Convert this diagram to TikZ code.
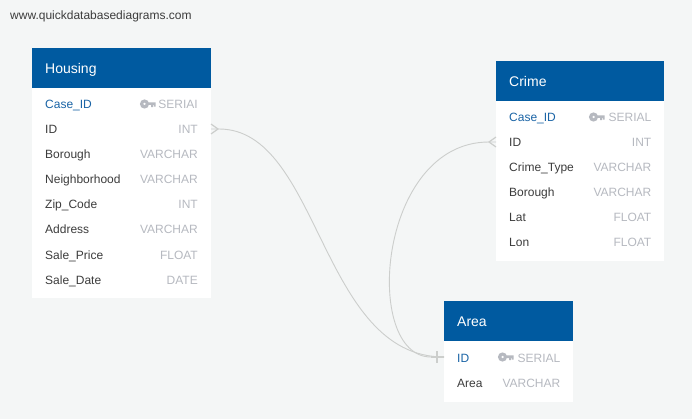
\documentclass[tikz,border=0pt]{standalone}
\usepackage{fontspec}
\setmainfont{Liberation Sans}
\definecolor{bgc}{HTML}{F4F6F6}
\definecolor{headc}{HTML}{005AA0}
\definecolor{pkc}{HTML}{1A64A6}
\definecolor{namec}{HTML}{3C3C3C}
\definecolor{typec}{HTML}{B6B9C0}
\definecolor{linec}{HTML}{CCCECC}
\tikzset{
  x=1pt,y=-1pt,
  tablebody/.style={fill=white,draw=none,inner sep=0pt,anchor=north west},
  tablehead/.style={fill=headc,draw=none,inner sep=0pt,anchor=north west,minimum height=40pt},
  headtext/.style={text=white,anchor=base west,inner sep=0pt,font=\fontsize{14}{16}\selectfont},
  rowname/.style={text=namec,anchor=base west,inner sep=0pt,font=\fontsize{12}{14}\selectfont},
  pkname/.style={rowname,text=pkc},
  rowtype/.style={text=typec,anchor=base east,inner sep=0pt,font=\fontsize{12}{14}\selectfont},
  rel/.style={draw=linec,line width=0.9pt},
  foot/.style={draw=linec,line width=1.2pt},
  keyicon/.style={fill=typec,draw=none},
}
\newcommand{\keyglyph}[2]{%
  \fill[even odd rule,keyicon] (#1,#2) circle[radius=4.6] (#1,#2) circle[radius=1.5];
  \fill[keyicon] (#1+3,#2-1.6) rectangle (#1+11,#2+1) (#1+6.5,#2) rectangle (#1+8.3,#2+3.2) (#1+9.2,#2) rectangle (#1+11,#2+2.6);
}
\begin{document}
\begin{tikzpicture}
\useasboundingbox (0,0) rectangle (692,419);
\fill[bgc] (0,0) rectangle (692,419);
\node[anchor=base west,inner sep=0pt,text=namec,font=\fontsize{12}{14}\selectfont] (site) at (10,20) {www.quickdatabasediagrams.com};

% Housing
\node[tablebody,minimum width=179pt,minimum height=250pt] (housing) at (32,48) {};
\node[tablehead,minimum width=179pt] (housinghead) at (32,48) {};
\node[headtext] (housingtitle) at (45,73.7) {Housing};
\node[pkname] (h1) at (45,109) {Case\_ID};
\node[rowtype] (h1t) at (198,109) {SERIAI};
\keyglyph{144.5}{104}
\node[rowname] (h2) at (45,134) {ID};
\node[rowtype] (h2t) at (198,134) {INT};
\node[rowname] (h3) at (45,159) {Borough};
\node[rowtype] (h3t) at (198,159) {VARCHAR};
\node[rowname] (h4) at (45,184) {Neighborhood};
\node[rowtype] (h4t) at (198,184) {VARCHAR};
\node[rowname] (h5) at (45,209) {Zip\_Code};
\node[rowtype] (h5t) at (198,209) {INT};
\node[rowname] (h6) at (45,234) {Address};
\node[rowtype] (h6t) at (198,234) {VARCHAR};
\node[rowname] (h7) at (45,259) {Sale\_Price};
\node[rowtype] (h7t) at (198,259) {FLOAT};
\node[rowname] (h8) at (45,284) {Sale\_Date};
\node[rowtype] (h8t) at (198,284) {DATE};

% Crime
\node[tablebody,minimum width=168pt,minimum height=200pt] (crime) at (496,61) {};
\node[tablehead,minimum width=168pt] (crimehead) at (496,61) {};
\node[headtext] (crimetitle) at (509,86.7) {Crime};
\node[pkname] (c1) at (509,122) {Case\_ID};
\node[rowtype] (c1t) at (651.5,122) {SERIAL};
\keyglyph{593.5}{117}
\node[rowname] (c2) at (509,147) {ID};
\node[rowtype] (c2t) at (651.5,147) {INT};
\node[rowname] (c3) at (509,172) {Crime\_Type};
\node[rowtype] (c3t) at (651.5,172) {VARCHAR};
\node[rowname] (c4) at (509,197) {Borough};
\node[rowtype] (c4t) at (651.5,197) {VARCHAR};
\node[rowname] (c5) at (509,222) {Lat};
\node[rowtype] (c5t) at (651.5,222) {FLOAT};
\node[rowname] (c6) at (509,247) {Lon};
\node[rowtype] (c6t) at (651.5,247) {FLOAT};

% Area
\node[tablebody,minimum width=129pt,minimum height=101pt] (area) at (444,301) {};
\node[tablehead,minimum width=129pt] (areahead) at (444,301) {};
\node[headtext] (areatitle) at (457,326.7) {Area};
\node[pkname] (a1) at (457,362) {ID};
\node[rowtype] (a1t) at (560.5,362) {SERIAL};
\keyglyph{502.5}{357}
\node[rowname] (a2) at (457,387) {Area};
\node[rowtype] (a2t) at (560.5,387) {VARCHAR};

% Connection points on table edges
\coordinate (hport) at (211,129);
\coordinate (cport) at (496,142);
\coordinate (aport) at (444,357);

% Relationships
\draw[rel] (hport) -- ++(8,0) .. controls (320,129) and (320,357) .. (aport);
\draw[rel] (cport) -- ++(-7,0) .. controls (377,142) and (362,357) .. (431,357) -- (aport);
% Crow's feet
\draw[foot] (211,124) -- (218,129) -- (211,134);
\draw[foot] (496,137) -- (489,142) -- (496,147);
\draw[foot] (431,357) -- (aport);
% One bar
\draw[foot] (437,351) -- (437,363);
\end{tikzpicture}
\end{document}
